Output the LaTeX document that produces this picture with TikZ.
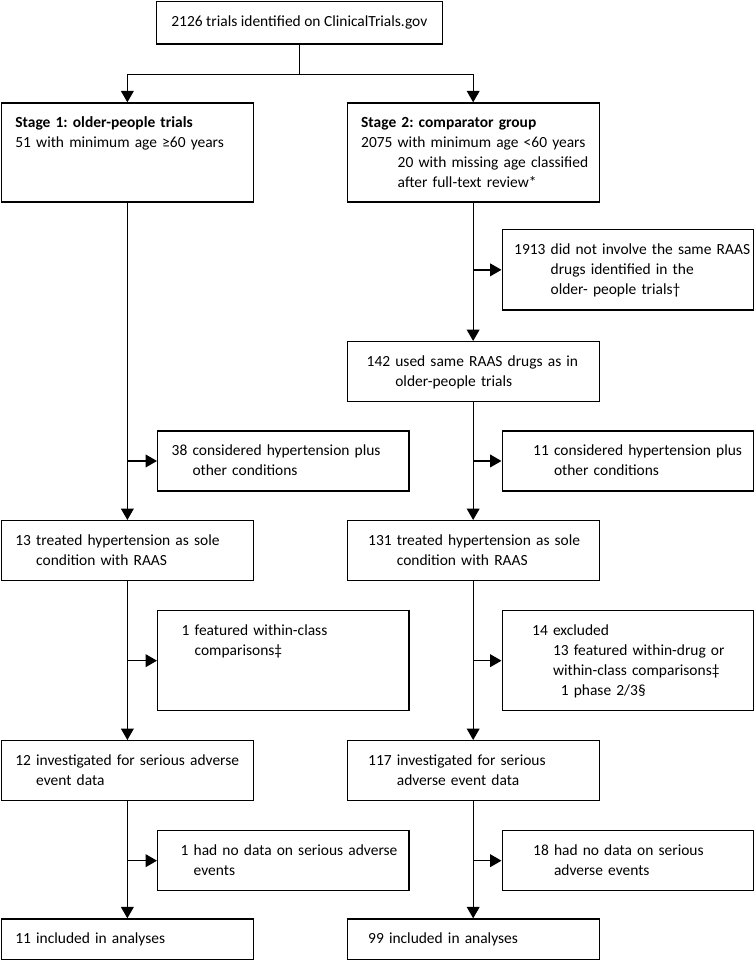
\documentclass[tikz,border=0pt]{standalone}
\usepackage{fontspec}
\setmainfont{Carlito}
\usepackage{tikz}
\usetikzlibrary{arrows.meta}

\newdimen\pxu \pxu=0.75pt
% 番号の後ろで折り返す行
\newcommand\entry[2]{\hspace*{#1\pxu}\begin{tabular}[t]{@{}l@{\ }l@{}}#2\end{tabular}}

\begin{document}
\frenchspacing
\begin{tikzpicture}[
          x=0.75pt, y=-0.75pt,
          line width=1pt,
          font=\fontsize{11.6}{15}\selectfont,
          box/.style={
              draw,
              anchor=north west,
              inner sep=0pt,
              text width=189pt,
              text height=18.75pt,
              text depth=#1
            },box/.default=26.25pt
          ,side/.style={
              box=#1,
              text width=188.6pt
            },side/.default=26.25pt
          ,arrow/.style={
              -{Triangle[length=8.5pt,width=9.5pt]}
            }
        ]
        \useasboundingbox (0,0) rectangle (754,960);

        % 最初の枠
        \node[draw, anchor=north west, inner sep=0pt,
          minimum width=214.5pt, minimum height=31.9pt]
          (trials) at (155.7,0.7) {2126 trials identified on ClinicalTrials.gov};

        % Stage 1, Stage 2
        \node[box=55.5pt] (stageA) at (0.7,102.3)
          {\entry{14}{\multicolumn{2}{@{}l@{}}{\bfseries Stage 1: older-people trials}\\
            51 & with minimum age ≥60 years}};
        \node[box=55.5pt] (stageB) at (346.5,102.3)
          {\entry{14}{\multicolumn{2}{@{}l@{}}{\bfseries Stage 2: comparator group}\\
            2075 & with minimum age <60 years\\
            & 20 with missing age classified\\
            & after full-text review*}};

        % 右の列だけの段
        \node[side=41.5pt] (notsame) at (501.5,229)
          {\entry{12}{1913 & did not involve the same RAAS\\
            & drugs identified in the\\
            & older- people trials†}};
        \node[box] (same) at (346.5,341)
          {\entry{19.5}{142 & used same RAAS drugs as in\\
            & older-people trials}};

        % 除外の枠
        \node[side] (plusA) at (157,430.3)
          {\entry{14}{38 & considered hypertension plus\\ & other conditions}};
        \node[side] (plusB) at (501.5,430.3)
          {\entry{31}{11 & considered hypertension plus\\ & other conditions}};

        \node[box] (soleA) at (0.7,520)
          {\entry{14}{13 & treated hypertension as sole\\ & condition with RAAS}};
        \node[box] (soleB) at (346.5,520)
          {\entry{21}{131 & treated hypertension as sole\\ & condition with RAAS}};

        \node[side=56.25pt] (exclA) at (157,610)
          {\entry{24}{1 & featured within-class\\ & comparisons‡}};
        \node[side=56.25pt] (exclB) at (501.5,610)
          {\entry{30}{14 & excluded\\
            & 13 featured within-drug or\\
            & within-class comparisons‡\\
            & \phantom{1}1 phase 2/3§}};

        \node[box] (seriousA) at (0.7,740)
          {\entry{14}{12 & investigated for serious adverse\\ & event data}};
        \node[box] (seriousB) at (346.5,740)
          {\entry{21}{117 & investigated for serious\\ & adverse event data}};

        \node[side] (nodataA) at (157,830)
          {\entry{23}{1 & had no data on serious adverse\\ & events}};
        \node[side] (nodataB) at (501.5,830)
          {\entry{31}{18 & had no data on serious\\ & adverse events}};

        \node[box=12pt] (inclA) at (0.7,918.3)
          {\entry{14}{11 & included in analyses}};
        \node[box=12pt] (inclB) at (346.5,918.3)
          {\entry{21}{99 & included in analyses}};

        % 分岐
        \coordinate (split) at ([yshift=-22.3pt]trials.south);
        \draw (trials.south) -- (split);
        \draw[arrow] (split) -| (stageA.north);
        \draw[arrow] (split) -| (stageB.north);

        % 縦の矢印と横の矢印
        \foreach \from/\to/\out in {stageB/same/notsame,
            stageA/soleA/plusA, soleA/seriousA/exclA, seriousA/inclA/nodataA,
            same/soleB/plusB, soleB/seriousB/exclB, seriousB/inclB/nodataB}{
            \draw[arrow] (\from.south) -- (\to.north);
            \draw[arrow] (\from.south |- \out.west) -- (\out.west);
          }

      \end{tikzpicture}
\end{document}
